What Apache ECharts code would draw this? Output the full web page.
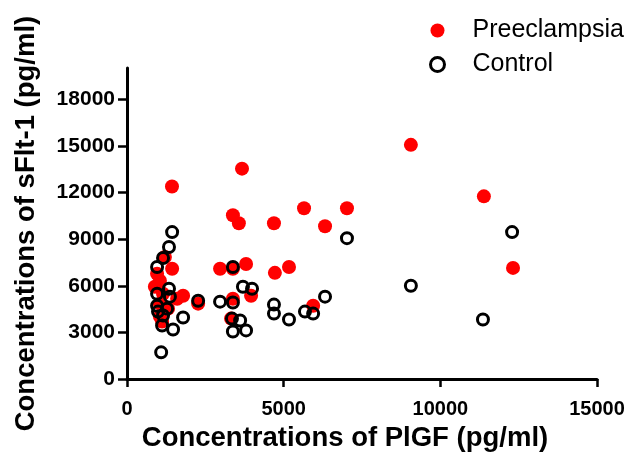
<!DOCTYPE html>
<html>
<head>
<meta charset="utf-8">
<script src="https://cdn.jsdelivr.net/npm/echarts@6/dist/echarts.min.js"></script>
<style>
html,body{margin:0;padding:0;background:#fff;}
#chart{width:639px;height:457px;}
</style>
</head>
<body>
<div id="chart"></div>
<script>
var seriesNames = ['Preeclampsia', 'Control'];
var xTicks = [0, 5000, 10000, 15000];
var yTicks = [0, 3000, 6000, 9000, 12000, 15000, 18000];

// [PlGF, sFlt-1]
var preeclampsia = [
  [1436, 12380], [9060, 15060], [11390, 11750], [12320, 7150], [3670, 13530],
  [3380, 10530], [3570, 10020], [4690, 10020], [5650, 10980], [6320, 9830],
  [7020, 10980], [3800, 7400], [2970, 7090], [5170, 7210], [4720, 6830],
  [5940, 4720], [3960, 5360], [3380, 5170], [3320, 3890], [2270, 4850],
  [1790, 5360], [1210, 7850], [1440, 7090], [960, 6770], [1050, 6320],
  [890, 5940], [1600, 5170], [1050, 4850], [1120, 3700], [1050, 4020],
  [1150, 5490], [1310, 4530], [3380, 7090]
];
var control = [
  [1440, 9450], [1340, 8490], [1150, 7790], [960, 7210], [3380, 7210],
  [3700, 5940], [3990, 5810], [2270, 5040], [2970, 4980], [3380, 4920],
  [3350, 3890], [3610, 3770], [3380, 3060], [3800, 3130], [4690, 4790],
  [4690, 4210], [5170, 3830], [5680, 4340], [5940, 4210], [6320, 5300],
  [7020, 9060], [9060, 6000], [11360, 3830], [12290, 9450], [1090, 1720],
  [1790, 3960], [1470, 3190], [1120, 3450], [1370, 5300], [1340, 5810],
  [960, 5490], [960, 4720], [990, 4340], [1150, 4090], [1280, 4530]
];

var FONT = '"Liberation Sans", Arial, Helvetica, sans-serif';
var plain = function (v) { return String(v); };
var chart = echarts.init(document.getElementById('chart'));
chart.setOption({
  backgroundColor: '#ffffff',
  animation: false,
  legend: {
    orient: 'vertical',
    left: 424,
    top: 13,
    itemGap: 9,
    itemWidth: 14,
    itemHeight: 14,
    textStyle: { fontFamily: FONT, fontSize: 25, color: '#000', padding: [0, 0, 0, 23] },
    data: [
      { name: seriesNames[0] },
      { name: seriesNames[1], itemStyle: { color: '#fff', borderColor: '#000', borderWidth: 3 } }
    ]
  },
  grid: { left: 127, right: 42, top: 68, bottom: 76, containLabel: false },
  xAxis: {
    type: 'value',
    min: 0, max: 15000, interval: 5000,
    name: 'Concentrations of PlGF (pg/ml)',
    nameLocation: 'middle',
    nameGap: 37,
    nameTextStyle: { fontFamily: FONT, fontSize: 27.5, fontWeight: 'bold', color: '#000',
                     padding: [0, 34, 0, 0] },
    axisLine: { show: true, onZero: false, lineStyle: { color: '#000', width: 3 } },
    axisTick: { show: true, inside: false, length: 8, lineStyle: { color: '#000', width: 2.5 } },
    axisLabel: { fontFamily: FONT, fontSize: 20, fontWeight: 'bold', color: '#000', margin: 20,
                 customValues: xTicks, formatter: plain },
    splitLine: { show: false }
  },
  yAxis: {
    type: 'value',
    min: 0, max: 20000, interval: 3000,
    name: 'Concentrations of sFlt-1 (pg/ml)',
    nameLocation: 'middle',
    nameGap: 87,
    nameTextStyle: { fontFamily: FONT, fontSize: 27.5, fontWeight: 'bold', color: '#000' },
    axisLine: { show: true, onZero: false, lineStyle: { color: '#000', width: 3 } },
    axisTick: { show: true, inside: false, length: 9, lineStyle: { color: '#000', width: 2.5 },
                customValues: yTicks },
    axisLabel: { fontFamily: FONT, fontSize: 21, fontWeight: 'bold', color: '#000', margin: 12,
                 customValues: yTicks, formatter: plain },
    splitLine: { show: false }
  },
  series: [
    {
      name: seriesNames[0],
      type: 'scatter',
      symbol: 'circle',
      symbolSize: 14,
      itemStyle: { color: '#ff0000', opacity: 1 },
      data: preeclampsia,
      z: 2
    },
    {
      name: seriesNames[1],
      type: 'scatter',
      symbol: 'circle',
      symbolSize: 11,
      itemStyle: { color: 'rgba(255,255,255,0)', borderColor: '#000', borderWidth: 3, opacity: 1 },
      data: control,
      z: 3
    }
  ]
});
</script>
</body>
</html>
